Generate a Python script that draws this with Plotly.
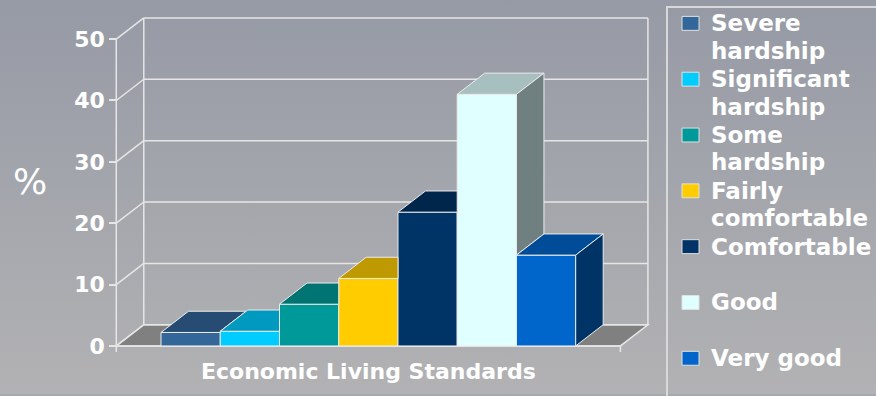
import plotly.graph_objects as go

# ---------------- data ----------------
series_names = ["Severe hardship", "Significant hardship", "Some hardship",
                "Fairly comfortable", "Comfortable", "Good", "Very good"]
legend_lines = [["Severe", "hardship"], ["Significant", "hardship"], ["Some", "hardship"],
                ["Fairly", "comfortable"], ["Comfortable"], ["Good"], ["Very good"]]
values = [2.2, 2.4, 6.8, 11.0, 21.8, 41.0, 14.8]
category = ["Economic Living Standards"]
y_ticks = [0, 10, 20, 30, 40, 50]
y_title = "%"

# ---------------- styles ----------------
front_colors = ["#336699", "#00ccff", "#009999", "#ffcc00", "#003366", "#e0ffff", "#0066cc"]
EDGE = "#ececec"
FONT = "DejaVu Sans"

W, H = 876, 396
PLOT_L, PLOT_R, PLOT_T, PLOT_B = 100, 672, 6, 358
CENTER_PX = 368.35      # pixel of the category centre
BAR_PX = 59.24          # pixel width of one bar
ZERO_PX = 347.7         # pixel of value 0 on the front plane
PCT_PX = 6.168          # pixels per percent
DEPTH_PX = (27.5, 21.3)  # oblique depth offset
FLOOR_HALF = 4.255      # half width of floor, in bar widths

# legend box geometry (pixels)
LEG_L, LEG_T = 667, 7
LEG_FIRST, LEG_PITCH, LEG_LINE = 23.5, 56.1, 27.5
SYM_X0, SYM_X1, SYM_H = 682, 699, 14
TXT_X = 709

xr = [(PLOT_L - CENTER_PX) / BAR_PX, (PLOT_R - CENTER_PX) / BAR_PX]
yr = [(ZERO_PX - PLOT_B) / PCT_PX, (ZERO_PX - PLOT_T) / PCT_PX]
DX = DEPTH_PX[0] / BAR_PX
DY = DEPTH_PX[1] / PCT_PX
n = len(values)
u0, u1 = -FLOOR_HALF, FLOOR_HALF
vtop = y_ticks[-1]


def shade(hexc, f):
    h = hexc.lstrip("#")
    r, g, b = (int(h[k:k + 2], 16) for k in (0, 2, 4))
    return "rgb(%d,%d,%d)" % (round(r * f), round(g * f), round(b * f))


fig = go.Figure()

# background gradient (full paper)
fig.add_trace(go.Scatter(
    x=[0, 1, 1, 0, 0], y=[0, 0, 1, 1, 0], mode="lines", fill="toself",
    line=dict(width=0), fillgradient=dict(type="vertical",
                                          colorscale=[[0, "#b2b2b4"], [1, "#969aa5"]]),
    hoverinfo="skip", showlegend=False, xaxis="x", yaxis="y"))

# front faces as bars
for i, (name, v, c) in enumerate(zip(series_names, values, front_colors)):
    fig.add_trace(go.Bar(
        x=[0], y=[v], base=0, offset=i - n / 2, width=1, name=name,
        marker=dict(color=c, line=dict(color=EDGE, width=1)),
        xaxis="x2", yaxis="y2", hoverinfo="name+y", showlegend=False))

# top and side faces (visible parts)
for i, (v, c) in enumerate(zip(values, front_colors)):
    l = i - n / 2
    r = l + 1
    nxt = values[i + 1] if i < n - 1 else None
    if nxt is not None and nxt >= v:
        hc = min(nxt, v + DY)
        top = [(l, v), (r, v), (r, hc), (r + (v + DY - hc) / DY * DX, v + DY), (l + DX, v + DY)]
    else:
        top = [(l, v), (r, v), (r + DX, v + DY), (l + DX, v + DY)]
    top.append(top[0])
    fig.add_trace(go.Scatter(
        x=[p[0] for p in top], y=[p[1] for p in top], mode="lines", fill="toself",
        fillcolor=shade(c, 0.75), line=dict(color=EDGE, width=1),
        hoverinfo="skip", showlegend=False, xaxis="x2", yaxis="y2"))
    lo = 0 if nxt is None else nxt
    if v > lo:
        side = [(r, lo), (r, v), (r + DX, v + DY), (r + DX, lo + DY), (r, lo)]
        fig.add_trace(go.Scatter(
            x=[p[0] for p in side], y=[p[1] for p in side], mode="lines", fill="toself",
            fillcolor=shade(c, 0.5), line=dict(color=EDGE, width=1),
            hoverinfo="skip", showlegend=False, xaxis="x2", yaxis="y2"))

# walls, floor and grid
shapes = []
line = dict(color="#e6e6e6", width=1.5)
shapes.append(dict(type="path", xref="x2", yref="y2", layer="below",
                   path="M%f,0 L%f,0 L%f,%f L%f,%f Z" % (u0, u1, u1 + DX, DY, u0 + DX, DY),
                   fillcolor="#808080", line=line))
for t in y_ticks:
    shapes.append(dict(type="line", xref="x2", yref="y2", layer="below",
                       x0=u0 + DX, x1=u1 + DX, y0=t + DY, y1=t + DY, line=line))
    shapes.append(dict(type="line", xref="x2", yref="y2", layer="below",
                       x0=u0, x1=u0 + DX, y0=t, y1=t + DY, line=line))
for xx in (u0 + DX, u1 + DX):
    shapes.append(dict(type="line", xref="x2", yref="y2", layer="below",
                       x0=xx, x1=xx, y0=DY, y1=vtop + DY, line=line))
shapes.append(dict(type="line", xref="x2", yref="y2", layer="below",
                   x0=u0, x1=u0, y0=-1, y1=vtop, line=line))
shapes.append(dict(type="line", xref="x2", yref="y2", layer="below",
                   x0=u0, x1=u1, y0=0, y1=0, line=line))
shapes.append(dict(type="line", xref="x2", yref="y2", layer="below",
                   x0=u1, x1=u1, y0=-1, y1=0, line=line))

# legend (drawn with shapes + annotations to match the original spacing)
shapes.append(dict(type="rect", xref="paper", yref="paper",
                   x0=LEG_L / W, x1=1.05, y0=-0.05, y1=1 - LEG_T / H,
                   line=dict(color="#d8d8d8", width=2), fillcolor="rgba(0,0,0,0)"))
annotations = [dict(text=y_title, xref="paper", yref="paper", x=30 / W, y=1 - 182 / H,
                    xanchor="center", yanchor="middle", showarrow=False,
                    font=dict(family=FONT, size=36, color="white"))]
for k, (lines_k, c) in enumerate(zip(legend_lines, front_colors)):
    yc = LEG_FIRST + k * LEG_PITCH
    shapes.append(dict(type="rect", xref="paper", yref="paper",
                       x0=SYM_X0 / W, x1=SYM_X1 / W,
                       y0=1 - (yc + SYM_H / 2) / H, y1=1 - (yc - SYM_H / 2) / H,
                       fillcolor=c, line=dict(color="#e0e0e0", width=1)))
    for j, txt in enumerate(lines_k):
        annotations.append(dict(text=txt, xref="paper", yref="paper",
                                x=TXT_X / W, y=1 - (yc + j * LEG_LINE) / H,
                                xanchor="left", yanchor="middle", showarrow=False,
                                font=dict(family=FONT, size=23, color="white",
                                          weight="bold")))

fig.update_layout(
    width=W, height=H, autosize=False,
    margin=dict(l=0, r=0, t=0, b=0, pad=0),
    paper_bgcolor="#a6a8ae", plot_bgcolor="rgba(0,0,0,0)",
    barmode="overlay", shapes=shapes, annotations=annotations, showlegend=False,
    xaxis=dict(domain=[0, 1], range=[0, 1], visible=False, fixedrange=True),
    yaxis=dict(domain=[0, 1], range=[0, 1], visible=False, fixedrange=True),
    xaxis2=dict(domain=[PLOT_L / W, PLOT_R / W], range=xr, anchor="y2", type="linear",
                tickvals=[0], ticktext=category, showgrid=False, zeroline=False,
                showline=False, ticks="",
                tickfont=dict(family=FONT, size=22, color="white", weight="bold")),
    yaxis2=dict(domain=[1 - PLOT_B / H, 1 - PLOT_T / H], range=yr, anchor="free",
                position=(CENTER_PX + u0 * BAR_PX) / W, tickvals=y_ticks,
                ticks="outside", ticklen=7, tickwidth=1.5, tickcolor="#e6e6e6",
                showgrid=False, zeroline=False, showline=False,
                tickfont=dict(family=FONT, size=22, color="white", weight="bold")),
)

fig.write_html("out.html")
